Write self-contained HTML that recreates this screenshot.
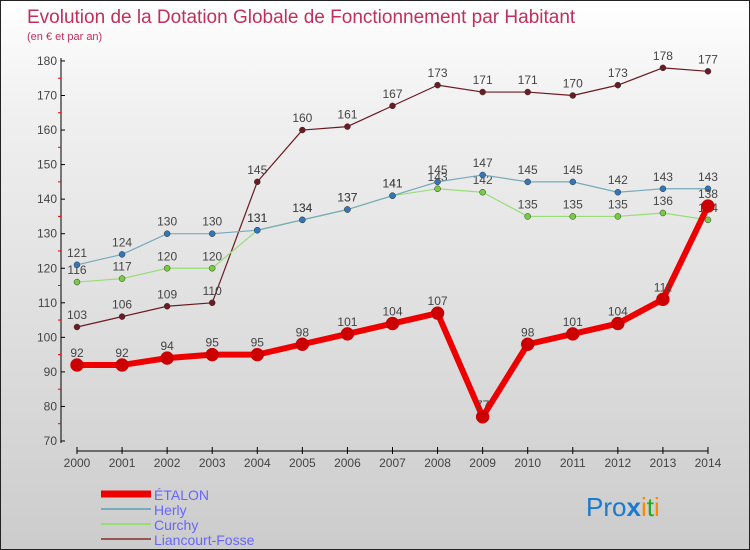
<!DOCTYPE html>
<html><head><meta charset="utf-8"><style>
body{margin:0}
#c{width:750px;height:550px;position:relative;box-sizing:border-box;border:1px solid #222;background:linear-gradient(#fff,#f0f0f0 20%,#ccc);font-family:"Liberation Sans",sans-serif;overflow:hidden}
</style></head><body>
<div id="c">
<svg id="s" width="750" height="550" style="position:absolute;left:0;top:0" font-family="Liberation Sans, sans-serif">
<text x="26" y="22" font-size="19" fill="#c0305a">Evolution de la Dotation Globale de Fonctionnement par Habitant</text>
<text x="26" y="39" font-size="11" fill="#c0305a">(en € et par an)</text>
<g id="axes"></g><g id="series"></g>
<g>
<line x1="100" y1="493" x2="150" y2="493" stroke="#e00" stroke-width="7"/><text x="153" y="499" font-size="14" fill="#66f">ÉTALON</text>
<line x1="100" y1="508" x2="150" y2="508" stroke="#7ab" stroke-width="2"/><text x="153" y="514" font-size="14" fill="#66f">Herly</text>
<line x1="100" y1="523" x2="150" y2="523" stroke="#9d7" stroke-width="2"/><text x="153" y="529" font-size="14" fill="#66f">Curchy</text>
<line x1="100" y1="538" x2="150" y2="538" stroke="#955" stroke-width="2"/><text x="153" y="544" font-size="14" fill="#66f">Liancourt-Fosse</text>
</g>
<text x="585" y="515" font-size="26"><tspan fill="#1a7ad0">Pro</tspan><tspan fill="#1a7ad0" font-weight="bold">x</tspan><tspan fill="#f80">i</tspan><tspan fill="#2a2">t</tspan><tspan fill="#f80">i</tspan></text>
</svg></div>
<script>
const years=[2000,2001,2002,2003,2004,2005,2006,2007,2008,2009,2010,2011,2012,2013,2014];
const etalon=[92,92,94,95,95,98,101,104,107,77,98,101,104,111,138];
const herly=[121,124,130,130,131,134,137,141,145,147,145,145,142,143,143];
const curchy=[116,117,120,120,131,134,137,141,143,142,135,135,135,136,134];
const liancourt=[103,106,109,110,145,160,161,167,173,171,171,170,173,178,177];
const yTicks=[70,80,90,100,110,120,130,140,150,160,170,180];
const NS="http://www.w3.org/2000/svg";
const xs=i=>76+i*45.07, ys=v=>440-(v-70)*3.455;
function mk(p,t,a){const e=document.createElementNS(NS,t);for(const k in a)e.setAttribute(k,a[k]);p.appendChild(e);return e;}
const ax=document.getElementById('axes');
let l=mk(ax,'line',{x1:60,y1:57,x2:60,y2:442,stroke:'#000'});


l=mk(ax,'line',{x1:76,y1:450,x2:707,y2:450,stroke:'#000'});


yTicks.forEach(v=>{const y=ys(v);mk(ax,'line',{x1:60,y1:y,x2:64,y2:y,stroke:'#000'});
if(v<180)mk(ax,'line',{x1:57,y1:y-17.3,x2:60,y2:y-17.3,stroke:'#e00'});
const t=mk(ax,'text',{x:56,y:y+4,'font-size':12,fill:'#444','text-anchor':'end'});t.textContent=v;

});
years.forEach((yr,i)=>{const x=xs(i);mk(ax,'line',{x1:x,y1:446,x2:x,y2:453,stroke:'#000'});
const t=mk(ax,'text',{x:x,y:466,'font-size':12,fill:'#444','text-anchor':'middle'});t.textContent=yr;

});
const sg=document.getElementById('series');
[[liancourt,'#6b1b22','#6b1b22',1.2,3,'liancourt-fosse'],[curchy,'#9d7','#7c4',1.2,3,'curchy'],[herly,'#7ab','#37b',1.2,3,'herly'],[etalon,'#e00','#c00',6,6.5,'etalon']].forEach(([d,c,pc,w,r,n])=>{
const g=mk(sg,'g',{});


const pl=mk(g,'polyline',{points:d.map((v,i)=>xs(i)+','+ys(v)).join(' '),fill:'none',stroke:c,'stroke-width':w,'stroke-linejoin':'round'});


d.forEach((v,i)=>{const p=mk(g,'circle',{cx:xs(i),cy:ys(v),r:r,fill:pc,stroke:n=='etalon'?'#c00':'#333','stroke-width':0.5});


const t=mk(g,'text',{x:xs(i),y:ys(v)-8,'font-size':12,fill:'#444','text-anchor':'middle'});t.textContent=v;

});
});
</script>
</body></html>
